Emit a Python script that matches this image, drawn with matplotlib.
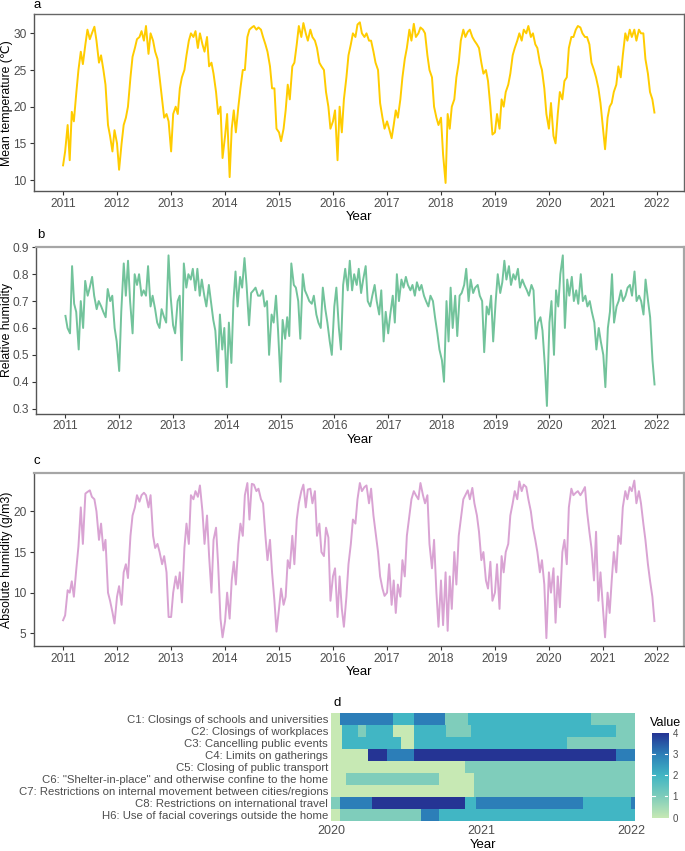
import matplotlib
matplotlib.use("Agg")
import matplotlib.pyplot as plt
import matplotlib.dates as mdates
from matplotlib.colors import LinearSegmentedColormap
import numpy as np
import pandas as pd

# ---- data (semi-monthly readings, 1st and 15th of each month) ----
temp = [
    12.0, 13.9, 17.5, 12.7, 19.3, 18.0, 22.0, 25.0, 27.5, 25.8, 28.5, 30.5, 29.2, 30.0, 30.9, 29.0, 26.0, 27.0, 25.0, 23.0, 17.5, 16.0, 13.9, 16.8,
    15.0, 11.4, 15.0, 17.5, 18.5, 20.0, 24.0, 26.8, 28.0, 29.2, 29.5, 30.3, 29.0, 31.0, 27.2, 30.0, 29.0, 27.5, 26.5, 24.0, 21.0, 18.5, 19.0, 18.0,
    13.9, 19.0, 20.0, 19.0, 22.5, 24.0, 25.0, 27.0, 29.0, 30.0, 29.5, 30.3, 28.0, 30.0, 28.5, 27.5, 29.5, 25.5, 26.0, 24.5, 22.0, 19.0, 20.0, 13.0,
    16.0, 19.0, 10.4, 17.0, 19.5, 16.5, 20.0, 22.5, 25.0, 25.0, 29.5, 30.5, 30.8, 31.0, 30.5, 30.8, 30.5, 29.5, 28.5, 27.5, 25.5, 22.5, 22.5, 17.0,
    16.5, 15.3, 17.0, 19.5, 23.0, 21.0, 25.5, 26.0, 28.5, 31.0, 29.5, 31.4, 30.0, 29.0, 30.5, 29.5, 29.0, 28.0, 26.0, 25.5, 25.0, 22.0, 20.0, 17.0,
    18.0, 19.5, 12.7, 20.0, 16.5, 21.0, 24.0, 27.0, 28.5, 30.0, 29.5, 31.2, 31.5, 30.0, 29.5, 30.0, 29.0, 29.0, 27.5, 26.0, 25.0, 20.5, 18.5, 17.0,
    18.0, 17.0, 15.7, 17.5, 19.5, 18.5, 21.0, 24.0, 26.5, 28.0, 30.5, 29.0, 31.3, 29.5, 30.0, 30.8, 30.5, 30.0, 27.0, 25.0, 24.0, 20.0, 18.5, 17.5,
    18.5, 13.5, 9.6, 19.0, 17.0, 20.0, 21.0, 24.0, 26.0, 29.0, 30.5, 29.5, 30.2, 30.5, 29.5, 29.0, 28.5, 28.0, 26.0, 24.5, 25.0, 23.5, 20.0, 16.2,
    16.5, 19.0, 17.0, 21.0, 20.0, 22.0, 23.0, 24.5, 27.0, 28.0, 29.0, 30.0, 29.0, 30.5, 30.0, 31.0, 29.5, 30.0, 28.5, 28.0, 26.0, 25.0, 22.5, 19.0,
    17.0, 20.5, 16.0, 15.0, 19.0, 22.0, 21.0, 23.5, 24.0, 28.0, 29.5, 29.5, 30.5, 31.0, 30.8, 30.0, 29.5, 29.5, 28.5, 26.0, 25.0, 24.0, 22.5, 20.5,
    17.0, 14.2, 18.5, 20.0, 20.5, 22.0, 23.0, 25.5, 24.0, 27.0, 30.0, 29.0, 30.5, 29.5, 30.5, 29.0, 30.5, 30.0, 30.0, 26.5, 24.5, 22.0, 21.0, 19.2,
]

rel_hum = [
    0.645, 0.60, 0.58, 0.83, 0.69, 0.66, 0.52, 0.70, 0.60, 0.775, 0.72, 0.75, 0.79, 0.72, 0.67, 0.70, 0.68, 0.66, 0.64, 0.745, 0.70, 0.72, 0.60, 0.55,
    0.44, 0.66, 0.84, 0.72, 0.85, 0.70, 0.58, 0.80, 0.76, 0.80, 0.72, 0.74, 0.72, 0.83, 0.68, 0.72, 0.67, 0.62, 0.60, 0.67, 0.64, 0.62, 0.87, 0.72,
    0.61, 0.58, 0.70, 0.72, 0.48, 0.84, 0.75, 0.80, 0.78, 0.82, 0.74, 0.82, 0.72, 0.78, 0.72, 0.68, 0.76, 0.70, 0.63, 0.59, 0.44, 0.65, 0.52, 0.60,
    0.38, 0.62, 0.47, 0.70, 0.81, 0.68, 0.79, 0.75, 0.86, 0.76, 0.61, 0.73, 0.74, 0.75, 0.72, 0.72, 0.74, 0.68, 0.70, 0.50, 0.65, 0.62, 0.72, 0.59,
    0.40, 0.63, 0.56, 0.64, 0.57, 0.84, 0.76, 0.75, 0.70, 0.56, 0.80, 0.74, 0.72, 0.70, 0.69, 0.72, 0.65, 0.62, 0.60, 0.75, 0.67, 0.62, 0.55, 0.50,
    0.68, 0.75, 0.60, 0.52, 0.76, 0.82, 0.74, 0.85, 0.74, 0.80, 0.76, 0.82, 0.73, 0.78, 0.83, 0.70, 0.68, 0.72, 0.76, 0.70, 0.65, 0.74, 0.55, 0.66,
    0.58, 0.65, 0.72, 0.62, 0.80, 0.70, 0.78, 0.75, 0.79, 0.76, 0.74, 0.76, 0.72, 0.77, 0.74, 0.76, 0.72, 0.70, 0.68, 0.72, 0.70, 0.64, 0.58, 0.52,
    0.48, 0.40, 0.70, 0.55, 0.75, 0.60, 0.72, 0.57, 0.72, 0.73, 0.76, 0.82, 0.70, 0.78, 0.73, 0.75, 0.76, 0.72, 0.70, 0.51, 0.68, 0.65, 0.72, 0.55,
    0.70, 0.80, 0.73, 0.77, 0.85, 0.78, 0.83, 0.76, 0.80, 0.78, 0.82, 0.75, 0.78, 0.76, 0.74, 0.72, 0.76, 0.74, 0.56, 0.62, 0.64, 0.59, 0.46, 0.31,
    0.62, 0.70, 0.50, 0.74, 0.68, 0.80, 0.87, 0.60, 0.78, 0.72, 0.79, 0.70, 0.74, 0.69, 0.80, 0.70, 0.72, 0.68, 0.70, 0.66, 0.62, 0.52, 0.60, 0.55,
    0.50, 0.38, 0.60, 0.66, 0.80, 0.62, 0.68, 0.70, 0.74, 0.70, 0.72, 0.75, 0.76, 0.72, 0.81, 0.70, 0.72, 0.70, 0.65, 0.78, 0.70, 0.64, 0.48, 0.39,
]

abs_hum = [
    6.6, 7.2, 10.3, 10.0, 11.4, 9.5, 13.0, 15.7, 20.5, 16.0, 22.2, 22.4, 22.6, 21.8, 21.5, 20.0, 16.5, 18.5, 15.2, 16.5, 10.0, 9.0, 7.6, 6.2,
    9.5, 10.8, 8.5, 12.5, 13.5, 11.8, 17.0, 19.5, 20.5, 22.0, 21.2, 22.0, 22.3, 22.0, 20.5, 22.0, 17.0, 15.5, 16.0, 15.0, 13.5, 14.5, 12.5, 7.0,
    7.0, 10.0, 12.0, 10.5, 12.5, 8.8, 15.5, 18.5, 16.0, 22.0, 21.5, 22.5, 21.8, 23.2, 20.0, 16.0, 19.5, 14.5, 10.0, 16.5, 18.0, 13.5, 6.8, 4.5,
    6.5, 10.0, 6.8, 11.5, 13.8, 11.0, 16.0, 18.5, 17.0, 22.0, 23.5, 19.0, 23.4, 23.3, 22.5, 22.8, 21.5, 21.0, 17.0, 14.0, 16.5, 12.5, 9.0, 5.2,
    8.0, 10.5, 8.5, 9.5, 14.0, 13.0, 17.0, 13.5, 19.0, 21.0, 22.5, 23.3, 20.5, 22.7, 22.8, 21.0, 22.5, 17.0, 18.5, 15.0, 14.5, 18.0, 16.8, 9.0,
    12.0, 13.0, 7.0, 12.0, 8.0, 5.8, 9.5, 13.5, 16.0, 19.0, 18.5, 21.5, 23.5, 22.5, 23.0, 23.2, 21.0, 22.8, 19.5, 17.5, 15.0, 12.0, 10.5, 9.6,
    10.0, 13.5, 8.5, 11.5, 7.5, 11.0, 9.5, 14.0, 12.0, 17.0, 19.5, 21.5, 22.5, 22.0, 21.5, 23.5, 22.0, 21.0, 22.0, 16.0, 13.0, 16.5, 10.0, 5.8,
    11.5, 6.0, 12.5, 5.3, 12.0, 8.0, 15.0, 11.0, 17.0, 19.0, 21.5, 22.0, 22.6, 21.5, 22.9, 21.0, 19.5, 17.5, 14.0, 15.0, 11.5, 10.5, 13.8, 9.0,
    10.0, 13.5, 8.0, 14.5, 12.5, 15.0, 16.0, 19.5, 21.0, 22.5, 21.5, 23.7, 22.5, 23.3, 23.0, 21.5, 20.0, 18.0, 16.5, 15.0, 12.5, 14.0, 11.0, 4.4,
    12.5, 10.0, 13.0, 6.3, 12.0, 8.2, 15.0, 16.5, 13.5, 20.5, 22.8, 22.0, 22.3, 22.5, 22.0, 22.4, 23.0, 20.0, 17.5, 15.5, 11.5, 17.5, 9.0, 12.5,
    8.0, 4.5, 10.0, 7.5, 11.5, 15.0, 12.5, 17.0, 16.0, 20.5, 22.5, 21.5, 23.0, 22.5, 23.8, 21.0, 22.5, 21.0, 18.5, 16.5, 13.5, 11.5, 9.5, 6.5,
]

dates = pd.date_range("2011-01-01", "2021-12-15", freq="SMS")
years = list(range(2011, 2023))

# ---- policy index (panel d): start date of each level, per measure ----
measures = [
    'C1: Closings of schools and universities',
    'C2: Closings of workplaces',
    'C3: Cancelling public events',
    'C4: Limits on gatherings',
    'C5: Closing of public transport',
    'C6: "Shelter-in-place" and otherwise confine to the home',
    'C7: Restrictions on internal movement between cities/regions',
    'C8: Restrictions on international travel',
    'H6: Use of facial coverings outside the home',
]
policy = [
    [("2020-01-01", 0), ("2020-01-24", 3), ("2020-05-30", 2), ("2020-07-22", 3), ("2020-10-04", 1), ("2020-11-30", 2), ("2021-09-24", 1)],
    [("2020-01-01", 0), ("2020-01-27", 2), ("2020-03-06", 1), ("2020-03-26", 2), ("2020-05-30", 0), ("2020-07-22", 2), ("2020-10-08", 1), ("2020-12-08", 2), ("2021-11-24", 1)],
    [("2020-01-01", 0), ("2020-01-27", 2), ("2020-06-19", 0), ("2020-07-22", 2), ("2021-07-29", 1)],
    [("2020-01-01", 0), ("2020-04-01", 4), ("2020-05-16", 3), ("2020-07-22", 4), ("2021-11-24", 3)],
    [("2020-01-01", 0), ("2020-11-22", 1)],
    [("2020-01-01", 0), ("2020-02-06", 1), ("2020-09-20", 0), ("2020-12-14", 1)],
    [("2020-01-01", 0), ("2020-12-14", 1)],
    [("2020-01-01", 1), ("2020-01-24", 3), ("2020-04-10", 4), ("2020-11-22", 2), ("2020-12-20", 3), ("2021-09-06", 2), ("2022-01-01", 3)],
    [("2020-01-01", 0), ("2020-01-24", 1), ("2020-08-06", 3), ("2020-09-20", 2)],
]
policy_end = "2022-01-09"

# ---- layout helpers ----
W, H = 685, 851
def rect(l, t, r, b):
    return [l / W, 1 - b / H, (r - l) / W, (b - t) / H]

def px_text(x, y, s, **kw):
    fig.text(x / W, 1 - y / H, s, **kw)

plt.rcParams['font.family'] = ['Liberation Sans', 'DejaVu Sans']
tick_col = '#4d4d4d'

fig = plt.figure(figsize=(W / 100, H / 100), dpi=100)

def ts_panel(box, values, color, ylabel, yticks, letter, letter_xy, frame):
    ax = fig.add_axes(rect(*box))
    ax.plot(dates, values, color=color, lw=1.4)
    ax.margins(x=0.05, y=0.05)
    ax.set_xticks([pd.Timestamp(f"{y}-01-01") for y in years])
    ax.xaxis.set_major_formatter(mdates.DateFormatter("%Y"))
    ax.set_yticks(yticks)
    ax.tick_params(labelsize=8.6, labelcolor=tick_col, color='#333333', length=3, width=0.8, pad=2)
    ax.set_xlabel("Year", fontsize=9.5, labelpad=1)
    for side in ['top', 'right']:
        ax.spines[side].set_color(frame[0])
        ax.spines[side].set_linewidth(frame[1])
    for side in ['left', 'bottom']:
        ax.spines[side].set_color('#555555')
        ax.spines[side].set_linewidth(1.0)
    px_text(letter_xy[0], letter_xy[1], letter, fontsize=9.5, ha='left', va='center')
    px_text(7.5, (box[1] + box[3]) / 2, ylabel, fontsize=8.8, rotation=90,
            ha='center', va='center')
    return ax

ax1 = ts_panel((33.5, 14.3, 684, 191), temp, '#FFCC00', 'Mean temperature (\u2103)',
               [10, 15, 20, 25, 30], 'a', (33, 5), ('#666666', 1.0))
ax2 = ts_panel((36, 247.3, 684, 413.5), rel_hum, '#72C39B', 'Relative humidity',
               [0.3, 0.4, 0.5, 0.6, 0.7, 0.8, 0.9], 'b', (37, 235), ('#a6a6a6', 1.6))
ax3 = ts_panel((33.5, 472.7, 684, 646), abs_hum, '#D9A3D3', 'Absolute humidity (g/m3)',
               [5, 10, 15, 20], 'c', (33, 461), ('#a6a6a6', 1.6))

# ---- heatmap ----
cmap = LinearSegmentedColormap.from_list(
    'ylgnbu', ['#c7e9b4', '#7fcdbb', '#41b6c4', '#2c7fb8', '#253494'])

days = pd.date_range("2020-01-01", policy_end, freq="D")
grid = np.zeros((len(measures), len(days)))
for i, segs in enumerate(policy):
    starts = pd.to_datetime([s for s, _ in segs])
    levels = np.array([v for _, v in segs])
    idx = np.searchsorted(starts.values, days.values, side='right') - 1
    grid[i] = levels[idx]

xedges = mdates.date2num(days) - 0.5
xedges = np.append(xedges, xedges[-1] + 1)
yedges = np.arange(len(measures) + 1)

axh = fig.add_axes(rect(331, 713.3, 635, 820.7))
axh.pcolormesh(xedges, yedges, grid, cmap=cmap, vmin=0, vmax=4, shading='flat')
axh.set_xlim(xedges[0], xedges[-1])
axh.set_ylim(len(measures), 0)
axh.set_yticks(np.arange(len(measures)) + 0.5)
axh.set_yticklabels(measures)
axh.set_xticks([mdates.date2num(pd.Timestamp(f"{y}-01-01")) for y in (2020, 2021, 2022)])
axh.set_xticklabels(['2020', '2021', '2022'])
axh.tick_params(length=0, labelsize=9, labelcolor=tick_col, pad=3)
axh.tick_params(axis='y', labelsize=8.2, pad=2)
for s in axh.spines.values():
    s.set_visible(False)
px_text(483, 845, "Year", fontsize=9.5, ha='center', va='center')
px_text(333, 703, 'd', fontsize=9.5, ha='left', va='center')

# ---- colour bar ----
axc = fig.add_axes(rect(651.7, 733.3, 668.3, 817.5))
grad = np.linspace(0, 4, 256).reshape(-1, 1)
axc.imshow(grad, cmap=cmap, vmin=0, vmax=4, aspect='auto', origin='lower', extent=[0, 1, 0, 4])
for v in [1, 2, 3]:
    axc.plot([0, 0.2], [v, v], color='white', lw=0.8)
    axc.plot([0.8, 1], [v, v], color='white', lw=0.8)
axc.set_xlim(0, 1)
axc.set_ylim(0, 4)
axc.set_xticks([])
axc.yaxis.tick_right()
axc.set_yticks([0, 1, 2, 3, 4])
axc.tick_params(axis='y', length=0, labelsize=7, labelcolor=tick_col, pad=3)
for s in axc.spines.values():
    s.set_visible(False)
px_text(665, 723, 'Value', fontsize=9, ha='center', va='center')

fig.savefig("out.png", dpi=100)
